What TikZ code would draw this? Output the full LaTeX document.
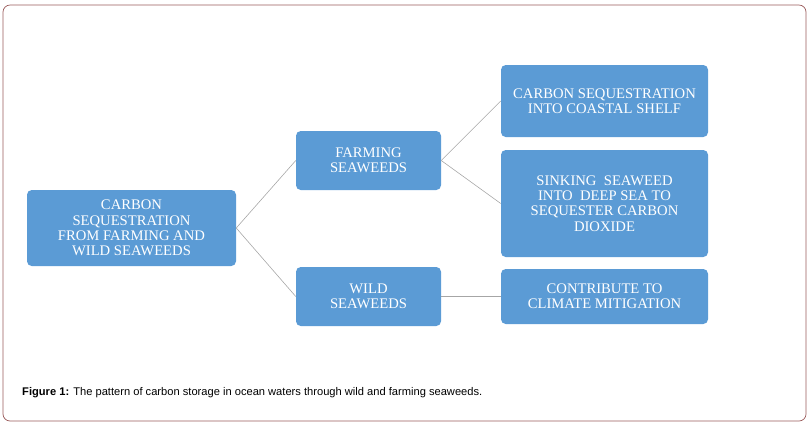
\documentclass[tikz,border=0pt]{standalone}
\usepackage{fontspec}
\setmainfont{Liberation Serif}
\newfontfamily\capfont{Liberation Sans}
\definecolor{boxblue}{HTML}{5B9BD5}
\definecolor{framered}{HTML}{9A5A5A}
\tikzset{
  seabox/.style={draw=none,fill=boxblue,rounded corners=4pt,text=white,
    align=center,font=\fontsize{12.5}{13}\selectfont,inner sep=2pt},
  link/.style={draw=gray!70,line width=0.5pt}
}
\begin{document}
\begin{tikzpicture}[x=0.3mm,y=-0.3mm]
\useasboundingbox (0,0) rectangle (811,426);
\draw[framered,rounded corners=6pt,line width=0.6pt] (3,5) rectangle (806,421);

\node[seabox,minimum width=209*0.3mm,minimum height=76*0.3mm] (root) at (131.5,228)
  {CARBON\\SEQUESTRATION\\FROM FARMING AND\\WILD SEAWEEDS};
\node[seabox,minimum width=145*0.3mm,minimum height=59*0.3mm] (farm) at (368.5,160.5)
  {FARMING\\SEAWEEDS};
\node[seabox,minimum width=145*0.3mm,minimum height=59*0.3mm] (wild) at (368.5,296.5)
  {WILD\\SEAWEEDS};
\node[seabox,minimum width=207*0.3mm,minimum height=72*0.3mm] (coast) at (604.5,101)
  {CARBON SEQUESTRATION\\INTO COASTAL SHELF};
\node[seabox,minimum width=207*0.3mm,minimum height=107*0.3mm] (sink) at (604.5,203.5)
  {SINKING\ \ SEAWEED\\INTO\ \ DEEP SEA TO\\SEQUESTER CARBON\\DIOXIDE};
\node[seabox,minimum width=207*0.3mm,minimum height=55*0.3mm] (climate) at (604.5,296.5)
  {CONTRIBUTE TO\\CLIMATE MITIGATION};

\draw[link] (root.east) -- (farm.west);
\draw[link] (root.east) -- (wild.west);
\draw[link] (farm.east) -- (coast.west);
\draw[link] (farm.east) -- (sink.west);
\draw[link] (wild.east) -- (climate.west);

\node[anchor=west,font=\capfont\fontsize{9.5}{11}\selectfont,inner sep=0pt] (cap) at (22,393)
  {\textbf{Figure 1:} The pattern of carbon storage in ocean waters through wild and farming seaweeds.};
\end{tikzpicture}
\end{document}
